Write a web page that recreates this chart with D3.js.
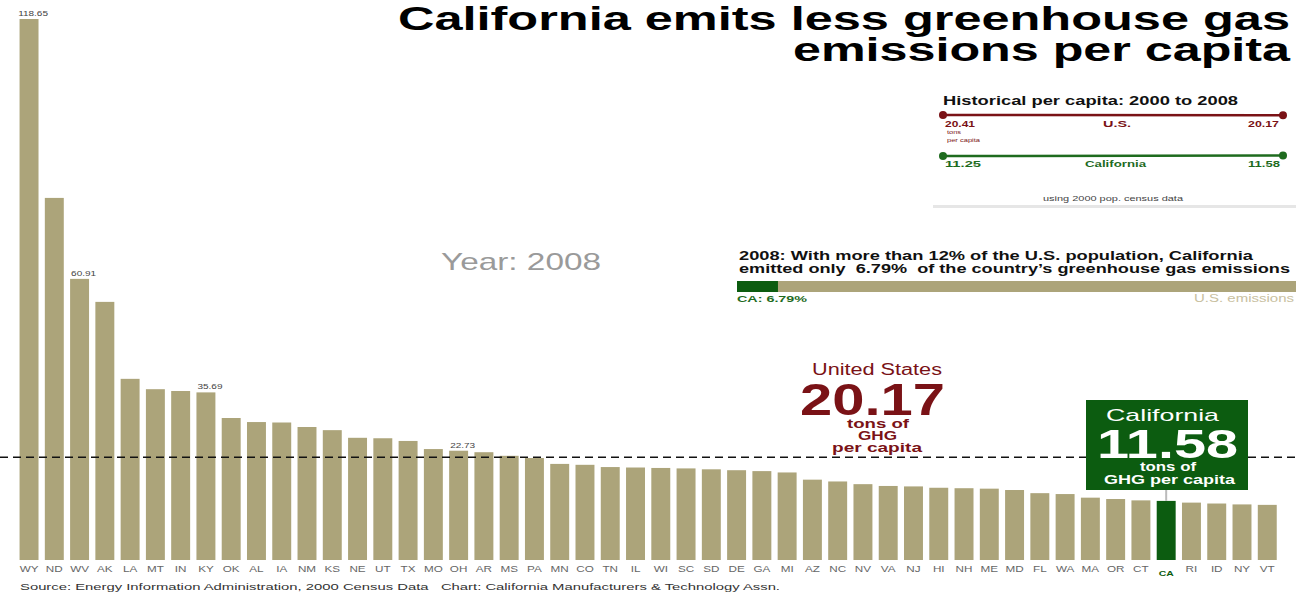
<!DOCTYPE html>
<html><head><meta charset="utf-8">
<script src="https://cdn.jsdelivr.net/npm/d3@7"></script>
<style>
html,body{margin:0;padding:0;background:#fff;}
svg{display:block;font-family:"Liberation Sans",Arial,sans-serif;}
</style></head>
<body><svg id="c" width="1296" height="592"></svg>
<script>
const states = ["WY","ND","WV","AK","LA","MT","IN","KY","OK","AL","IA","NM","KS","NE","UT","TX","MO","OH","AR","MS","PA","MN","CO","TN","IL","WI","SC","SD","DE","GA","MI","AZ","NC","NV","VA","NJ","HI","NH","ME","MD","FL","WA","MA","OR","CT","CA","RI","ID","NY","VT"];
const perCapita = [118.65,78.9,60.91,55.8,38.7,36.4,36.0,35.69,30.0,29.1,29.0,28.0,27.3,25.6,25.5,24.9,23.1,22.73,22.4,21.6,21.1,19.8,19.6,19.1,19.0,18.9,18.8,18.6,18.4,18.2,17.9,16.3,15.9,15.3,14.9,14.8,14.5,14.4,14.3,14.0,13.3,13.1,12.3,12.0,11.7,11.58,11.2,11.0,10.8,10.7];
const labelledStates = ["WY","WV","KY","OH"];
const usAverage = 20.17;
const caValue = 11.58;
const histYears = [2000, 2008];
const usHist = [20.41, 20.17];
const caHist = [11.25, 11.58];
const caSharePct = 6.79;

const svg = d3.select("#c");
const TAN = "#aca47a", GREEN = "#0c5c10", RED = "#7a1216", HGREEN = "#1e6b1e";

// text helper: left x, baseline y, target width (horizontally stretched like the reference)
function T(x, y, str, size, opts = {}) {
  const t = svg.append("text").attr("x", x).attr("y", y).attr("font-size", size)
    .attr("font-weight", opts.bold ? "bold" : "normal").attr("fill", opts.fill || "#111")
    .text(str);
  if (opts.w) t.attr("textLength", opts.w).attr("lengthAdjust", "spacingAndGlyphs");
  return t;
}

const x = d3.scaleBand().domain(states).range([16.4, 1279.9]).paddingInner(0.25).paddingOuter(0.125);
const y = d3.scaleLinear().domain([-1.55, 118.65]).range([560, 19]);

// bars
svg.append("g").selectAll("rect").data(states).join("rect")
  .attr("x", d => x(d)).attr("width", x.bandwidth())
  .attr("y", (d,i) => y(perCapita[i]))
  .attr("height", (d,i) => y(-1.55) - y(perCapita[i]))
  .attr("fill", d => d === "CA" ? GREEN : TAN);

// value labels
svg.append("g").selectAll("g").data(labelledStates).join("g")
  .attr("transform", d => `translate(${x(d) + x.bandwidth()/2 + 4},${y(perCapita[states.indexOf(d)]) - 3})`)
  .append("text").attr("transform","scale(1.25,1)")
  .attr("text-anchor","middle").attr("font-size", 8).attr("fill","#444")
  .text(d => d3.format(".2f")(perCapita[states.indexOf(d)]));

// state axis labels
const xAxis = d3.axisBottom(x).tickSize(0).tickPadding(0);
const gx = svg.append("g").attr("transform","translate(0,562)").call(xAxis);
gx.select(".domain").remove();
gx.selectAll("text").attr("font-size", 9).attr("fill","#666").attr("font-family","Liberation Sans, Arial, sans-serif")
  .attr("y", 10).attr("dy", 0).attr("transform","scale(1.3,1)");
gx.selectAll(".tick").filter(d => d === "CA").select("text")
  .attr("fill", GREEN).attr("font-weight","bold").attr("font-size",8).attr("y", 14);

// dashed US line
svg.append("line").attr("x1",0).attr("x2",1296).attr("y1",y(usAverage)-5).attr("y2",y(usAverage)-5)
  .attr("stroke","#111").attr("stroke-width",1.3).attr("stroke-dasharray","8,5");

// title
T(398, 30, "California emits less greenhouse gas", 34, {bold:true, fill:"#000", w:892});
T(793, 61, "emissions per capita", 34, {bold:true, fill:"#000", w:497});

// year
T(441, 270, "Year: 2008", 24, {fill:"#9a9a9a", w:160});

// historical inset
const hx = d3.scaleLinear().domain(histYears).range([943, 1283]);
T(943, 105, "Historical per capita: 2000 to 2008", 13, {bold:true, w:295});
function histLine(vals, yy, col) {
  const ly = d3.scaleLinear().domain([vals[0]-1, vals[0]+1]).range([yy+1.5, yy-1.5]);
  const pts = histYears.map((yr,i) => [hx(yr), ly(vals[i])]);
  svg.append("path").attr("d", d3.line()(pts)).attr("stroke", col).attr("stroke-width",2.5).attr("fill","none");
  svg.append("g").selectAll("circle").data(pts).join("circle").attr("cx",d=>d[0]).attr("cy",d=>d[1]).attr("r",4).attr("fill",col);
}
const f2 = d3.format(".2f");
histLine(usHist, 115, RED);
histLine(caHist, 156, HGREEN);
T(945, 127, f2(usHist[0]), 9, {bold:true, fill:RED, w:30});
T(1103, 127, "U.S.", 9, {bold:true, fill:RED, w:28});
T(1248, 127, f2(usHist[1]), 9, {bold:true, fill:RED, w:31});
T(947, 134, "tons", 5.5, {fill:RED, w:14});
T(947, 142, "per capita", 5.5, {fill:RED, w:33});
T(945, 167, f2(caHist[0]), 9, {bold:true, fill:HGREEN, w:36});
T(1085, 167, "California", 9, {bold:true, fill:HGREEN, w:61});
T(1248, 167, f2(caHist[1]), 9, {bold:true, fill:HGREEN, w:32});
T(1043, 201, "using 2000 pop. census data", 7, {fill:"#444", w:140});
svg.append("rect").attr("x",933).attr("y",205).attr("width",363).attr("height",3).attr("fill","#e6e6e6");

// share bar
T(739, 260, "2008: With more than 12% of the U.S. population, California", 13, {bold:true, w:514});
T(739, 273, "emitted only\u00a0 6.79%\u00a0 of the country\u2019s greenhouse gas emissions", 13, {bold:true, w:551});
const sx = d3.scaleLinear().domain([0,100]).range([737, 1296]);
svg.append("rect").attr("x",sx(0)).attr("y",281).attr("width",sx(100)-sx(0)).attr("height",11).attr("fill",TAN);
svg.append("rect").attr("x",sx(0)).attr("y",281).attr("width",sx(caSharePct)-sx(0)+3).attr("height",11).attr("fill",GREEN);
T(737, 302, "CA: " + caSharePct + "%", 9, {bold:true, fill:HGREEN, w:70});
T(1194, 302, "U.S. emissions", 10, {fill:"#c8c0a0", w:100});

// US label
T(812, 375, "United States", 16, {fill:RED, w:130});
T(800, 415, f2(usAverage), 44, {bold:true, fill:RED, w:145});
T(847, 428, "tons of", 12, {bold:true, fill:RED, w:62});
T(858, 440, "GHG", 12, {bold:true, fill:RED, w:39});
T(832, 452, "per capita", 12, {bold:true, fill:RED, w:90});

// CA box
const caX = x("CA") + x.bandwidth()/2;
svg.append("line").attr("x1",caX).attr("x2",caX).attr("y1",490).attr("y2",y(caValue)).attr("stroke","#bbb").attr("stroke-width",2);
svg.append("rect").attr("x",1086).attr("y",400).attr("width",162).attr("height",90).attr("fill",GREEN);
T(1106, 421, "California", 17, {fill:"#fff", w:113});
T(1097, 458, f2(caValue), 40, {bold:true, fill:"#fff", w:141});
T(1140, 471, "tons of", 12, {bold:true, fill:"#fff", w:56});
T(1104, 484, "GHG per capita", 12, {bold:true, fill:"#fff", w:131});

// source
T(20, 590, "Source: Energy Information Administration, 2000 Census Data\u00a0\u00a0\u00a0Chart: California Manufacturers & Technology Assn.", 9.5, {fill:"#333", w:760});
</script></body></html>
